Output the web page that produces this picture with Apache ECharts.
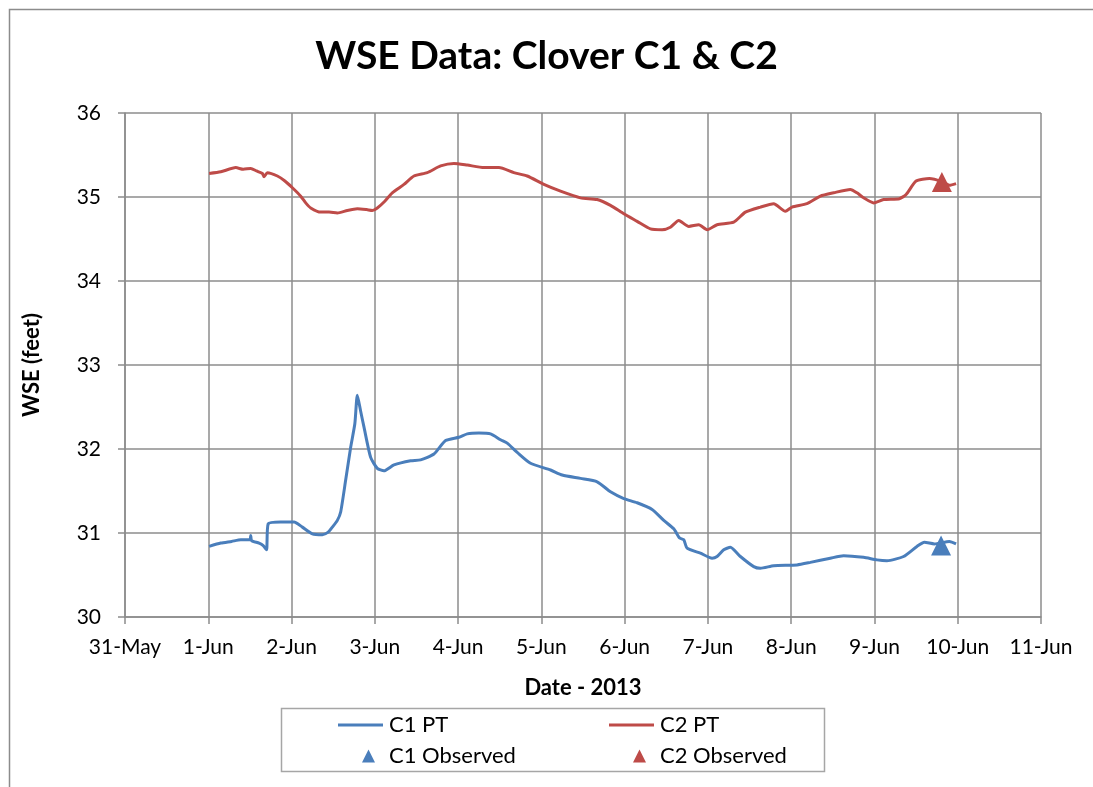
<!DOCTYPE html>
<html>
<head>
<meta charset="utf-8">
<script src="https://cdn.jsdelivr.net/npm/echarts@6/dist/echarts.min.js"></script>
<style>
  html, body { margin: 0; padding: 0; background: #fff; }
  #chart { width: 1093px; height: 787px; }
</style>
</head>
<body>
<div id="chart"></div>
<script>
// x = days since 31-May-2013 00:00
const dayLabels = ['31-May', '1-Jun', '2-Jun', '3-Jun', '4-Jun', '5-Jun', '6-Jun', '7-Jun', '8-Jun', '9-Jun', '10-Jun', '11-Jun'];

const c1Days = [1.01, 1.15, 1.28, 1.39, 1.50, 1.51, 1.52, 1.61, 1.66, 1.70, 1.72, 1.87, 2.03, 2.13, 2.25, 2.37, 2.44, 2.49, 2.55, 2.59, 2.65, 2.71, 2.76, 2.79, 2.83, 2.87, 2.95, 3.03, 3.11, 3.23, 3.43, 3.55, 3.71, 3.85, 4.01, 4.11, 4.25, 4.39, 4.51, 4.59, 4.71, 4.87, 5.11, 5.25, 5.47, 5.67, 5.83, 5.99, 6.15, 6.33, 6.47, 6.59, 6.66, 6.71, 6.75, 6.91, 7.05, 7.11, 7.19, 7.27, 7.39, 7.55, 7.63, 7.79, 8.07, 8.23, 8.47, 8.63, 8.87, 9.03, 9.15, 9.35, 9.51, 9.60, 9.72, 9.90, 9.98];
const c1Wse  = [30.84, 30.88, 30.90, 30.92, 30.92, 30.97, 30.91, 30.88, 30.85, 30.80, 31.11, 31.13, 31.13, 31.07, 30.99, 30.98, 31.01, 31.07, 31.15, 31.25, 31.63, 32.02, 32.30, 32.64, 32.45, 32.26, 31.90, 31.77, 31.74, 31.81, 31.86, 31.87, 31.94, 32.10, 32.14, 32.18, 32.19, 32.18, 32.11, 32.07, 31.96, 31.83, 31.75, 31.69, 31.65, 31.61, 31.49, 31.41, 31.36, 31.28, 31.15, 31.05, 30.94, 30.92, 30.82, 30.76, 30.70, 30.72, 30.80, 30.83, 30.72, 30.60, 30.58, 30.61, 30.62, 30.65, 30.70, 30.73, 30.71, 30.68, 30.67, 30.72, 30.84, 30.89, 30.87, 30.90, 30.87];

const c2Days = [1.01, 1.15, 1.33, 1.42, 1.51, 1.58, 1.65, 1.67, 1.71, 1.83, 1.92, 2.01, 2.11, 2.17, 2.23, 2.35, 2.45, 2.55, 2.67, 2.79, 2.90, 2.97, 3.03, 3.12, 3.21, 3.35, 3.47, 3.63, 3.79, 3.95, 4.11, 4.31, 4.49, 4.67, 4.83, 5.03, 5.23, 5.47, 5.67, 5.83, 5.99, 6.15, 6.31, 6.45, 6.55, 6.65, 6.77, 6.89, 6.99, 7.11, 7.31, 7.45, 7.63, 7.79, 7.93, 8.01, 8.19, 8.35, 8.51, 8.71, 8.79, 8.87, 8.99, 9.11, 9.30, 9.38, 9.50, 9.66, 9.82, 9.90, 9.98];
const c2Wse  = [35.28, 35.30, 35.35, 35.33, 35.34, 35.31, 35.28, 35.24, 35.29, 35.25, 35.19, 35.11, 35.01, 34.93, 34.87, 34.82, 34.82, 34.81, 34.84, 34.86, 34.85, 34.84, 34.87, 34.95, 35.05, 35.15, 35.25, 35.29, 35.37, 35.40, 35.38, 35.35, 35.35, 35.29, 35.25, 35.15, 35.07, 34.99, 34.97, 34.90, 34.80, 34.71, 34.62, 34.61, 34.64, 34.72, 34.65, 34.67, 34.61, 34.67, 34.70, 34.82, 34.88, 34.92, 34.83, 34.88, 34.92, 35.01, 35.05, 35.09, 35.05, 34.99, 34.93, 34.97, 34.98, 35.03, 35.19, 35.22, 35.18, 35.14, 35.16];

const c1ObsDay = [9.80];
const c1ObsWse = [30.85];
const c2ObsDay = [9.81];
const c2ObsWse = [35.18];

const blue = '#4a7ebb';
const red = '#be4b48';
const gridColor = '#8c8c8c';
const font = 'Lato, "Open Sans", sans-serif';

const zip = (xs, ys) => xs.map((x, i) => [x, ys[i]]);

const chart = echarts.init(document.getElementById('chart'));

function legendItem(name, left, top, isLine) {
  return {
    left: left, top: top,
    data: [name],
    icon: isLine ? 'rect' : 'triangle',
    itemWidth: isLine ? 45 : 13,
    itemHeight: isLine ? 3 : 13,
    itemGap: 0,
    selectedMode: false,
    textStyle: {
      fontFamily: font, fontSize: 22, color: '#000',
      padding: isLine ? [0, 0, 0, 1] : [0, 0, 0, 9]
    }
  };
}

chart.setOption({
  animation: false,
  backgroundColor: '#fff',
  title: {
    text: 'WSE Data: Clover C1 & C2',
    left: 'center',
    top: 32,
    textStyle: { fontFamily: font, fontSize: 39, fontWeight: 'bold', color: '#000' }
  },
  graphic: [
    { type: 'rect', shape: { x: 9.5, y: 9.5, width: 1200, height: 900 }, style: { fill: null, stroke: '#8c8c8c', lineWidth: 1.5 }, silent: true },
    { type: 'rect', shape: { x: 281.5, y: 708.5, width: 543, height: 63 }, style: { fill: '#fff', stroke: '#a6a6a6', lineWidth: 1.5 }, z: 0, silent: true }
  ],
  legend: [
    legendItem('C1 PT', 333, 709, true),
    legendItem('C2 PT', 604, 709, true),
    legendItem('C1 Observed', 357, 740, false),
    legendItem('C2 Observed', 628, 740, false)
  ],
  grid: { left: 125, top: 113, right: 52, bottom: 170 },
  xAxis: {
    type: 'value',
    min: 0, max: 11, interval: 1,
    name: 'Date - 2013',
    nameLocation: 'middle',
    nameGap: 60,
    nameTextStyle: { fontFamily: font, fontSize: 22, fontWeight: 'bold', color: '#000' },
    axisLine: { show: true, lineStyle: { color: gridColor, width: 1.5 } },
    axisTick: { show: true, length: 7, lineStyle: { color: gridColor, width: 1.5 } },
    axisLabel: { fontFamily: font, fontSize: 21, color: '#000', margin: 20, formatter: v => dayLabels[Math.round(v)] },
    splitLine: { show: true, lineStyle: { color: gridColor, width: 1.5 } }
  },
  yAxis: {
    type: 'value',
    min: 30, max: 36, interval: 1,
    name: 'WSE (feet)',
    nameLocation: 'middle',
    nameGap: 82,
    nameTextStyle: { fontFamily: font, fontSize: 22, fontWeight: 'bold', color: '#000' },
    axisLine: { show: true, lineStyle: { color: gridColor, width: 1.5 } },
    axisTick: { show: true, length: 7, lineStyle: { color: gridColor, width: 1.5 } },
    axisLabel: { fontFamily: font, fontSize: 21, color: '#000', margin: 24 },
    splitLine: { show: true, lineStyle: { color: gridColor, width: 1.5 } }
  },
  series: [
    { name: 'C1 PT', type: 'line', data: zip(c1Days, c1Wse), showSymbol: false, smooth: 0.2,
      lineStyle: { color: blue, width: 3 }, itemStyle: { color: blue }, z: 3 },
    { name: 'C2 PT', type: 'line', data: zip(c2Days, c2Wse), showSymbol: false, smooth: 0.2,
      lineStyle: { color: red, width: 3 }, itemStyle: { color: red }, z: 3 },
    { name: 'C1 Observed', type: 'scatter', data: zip(c1ObsDay, c1ObsWse), symbol: 'triangle', symbolSize: 20,
      itemStyle: { color: blue, opacity: 1 }, z: 4 },
    { name: 'C2 Observed', type: 'scatter', data: zip(c2ObsDay, c2ObsWse), symbol: 'triangle', symbolSize: 20,
      itemStyle: { color: red, opacity: 1 }, z: 4 }
  ]
});
</script>
</body>
</html>
